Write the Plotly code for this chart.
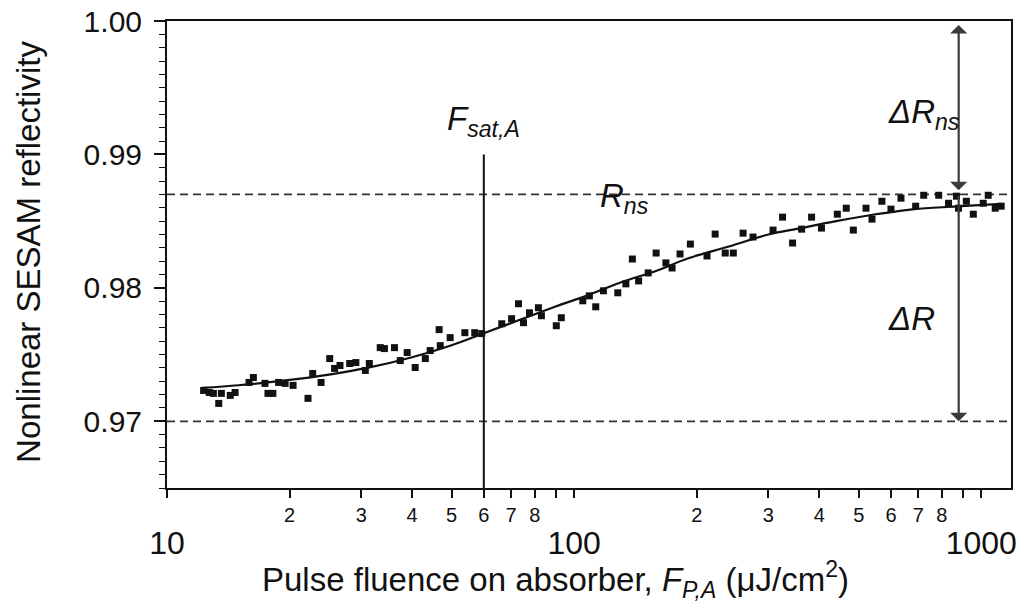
import math
import plotly.graph_objects as go

# Measured nonlinear reflectivity of the SESAM vs. pulse fluence (uJ/cm^2)
fluence = [12.3, 12.7, 13.0, 13.4, 13.6, 14.3, 14.7, 15.9, 16.3, 17.4, 17.7, 18.2, 18.8,
           19.5, 20.4, 22.2, 22.8, 23.9, 25.1, 25.8, 26.6, 28.1, 29.1, 30.7, 31.4, 33.4,
           34.2, 36.2, 37.4, 38.9, 40.7, 43.1, 44.3, 46.6, 46.9, 49.6, 53.9, 57.0, 59.3,
           66.4, 70.2, 73.0, 75.1, 77.7, 81.7, 83.1, 90.4, 93.0, 105, 109,
           113, 118, 128, 134, 139, 144, 152, 159, 168, 174, 182, 193, 212, 222, 235,
           246, 260, 275, 308, 325, 344,
           362, 383, 405, 443, 466, 485, 521, 539, 570, 600, 635, 690, 722, 786, 831,
           869, 879, 919, 956, 1011, 1040, 1082, 1119]
reflectivity = [0.97231, 0.97216, 0.97209, 0.97134, 0.97209, 0.97194, 0.97216, 0.97291,
                0.97328, 0.97284, 0.97209, 0.97209, 0.97291, 0.97284, 0.97269, 0.97172,
                0.97358, 0.97291, 0.97470, 0.97396, 0.97418, 0.97433, 0.97440, 0.97381,
                0.97433, 0.97552,
                0.97545, 0.97552, 0.97455, 0.97515, 0.97403, 0.97470, 0.97530, 0.97687,
                0.97567, 0.97627, 0.97664, 0.97664, 0.97657, 0.97731, 0.97769, 0.97881,
                0.97739, 0.97813, 0.97851, 0.97791, 0.97716, 0.97776, 0.97903, 0.97940,
                0.97858, 0.97978, 0.97963, 0.98030, 0.98216, 0.98052, 0.98112, 0.98261,
                0.98187, 0.98149, 0.98254, 0.98328, 0.98239, 0.98403, 0.98261, 0.98261,
                0.98410, 0.98381, 0.98433, 0.98530, 0.98336,
                0.98440, 0.98530, 0.98448, 0.98552, 0.98597, 0.98433, 0.98597, 0.98515,
                0.98649, 0.98590, 0.98672, 0.98612, 0.98694, 0.98694, 0.98634, 0.98687,
                0.98597, 0.98649, 0.98552, 0.98634, 0.98694, 0.98597, 0.98612]

# Fitted saturation curve
fit_fluence = [12.2, 15, 20, 25, 31, 40, 50, 60, 75, 90, 107, 130, 160, 190, 240, 300,
               350, 440, 545, 610, 685, 870, 1120]
fit_reflectivity = [0.9725, 0.9727, 0.9731, 0.9735, 0.9740, 0.9748, 0.9757, 0.9766,
                    0.9777, 0.9786, 0.9794, 0.9804, 0.9813, 0.9822, 0.9831, 0.9840,
                    0.9844, 0.9850, 0.9855, 0.9857, 0.9859, 0.9861, 0.9863]

# Fit parameters shown as guide lines
R_ns = 0.987          # reflectivity with only nonsaturable losses
R_lin = 0.970         # linear (low-fluence) reflectivity
F_sat = 60            # saturation fluence
F_marker = 880        # position of the modulation-depth arrows
R_top = 1.00

# Axis ticks
x_range = [10, 1183]
y_range = [0.965, 1.000]
x_minor_vals = [10, 20, 30, 40, 50, 60, 70, 80, 90,
                100, 200, 300, 400, 500, 600, 700, 800, 900, 1000]
x_minor_text = ["", "2", "3", "4", "5", "6", "7", "8", "",
                "", "2", "3", "4", "5", "6", "7", "8", "", ""]
x_major_vals = [10, 100, 1000]
x_major_text = ["10", "100", "1000"]
y_tick_vals = [0.97, 0.98, 0.99, 1.00]
y_tick_text = ["0.97", "0.98", "0.99", "1.00"]

FONT = "Liberation Sans, Arial, Helvetica, sans-serif"
INK = "#111111"
lg = math.log10

fig = go.Figure()

# guide lines
fig.add_trace(go.Scatter(x=x_range, y=[R_ns, R_ns], mode="lines",
                         line=dict(color="#333333", width=1.8, dash="8px,5px"),
                         hoverinfo="skip"))
fig.add_trace(go.Scatter(x=x_range, y=[R_lin, R_lin], mode="lines",
                         line=dict(color="#333333", width=1.8, dash="8px,5px"),
                         hoverinfo="skip"))
fig.add_trace(go.Scatter(x=[F_sat, F_sat], y=[y_range[0], 0.990], mode="lines",
                         line=dict(color=INK, width=2), hoverinfo="skip"))

# data and fit
fig.add_trace(go.Scatter(x=fluence, y=reflectivity, mode="markers",
                         marker=dict(symbol="square", size=7, color=INK)))
fig.add_trace(go.Scatter(x=fit_fluence, y=fit_reflectivity, mode="lines",
                         line=dict(color=INK, width=2.2, shape="spline")))

# invisible trace that carries the decade-label axis
fig.add_trace(go.Scatter(x=x_range, y=[y_range[0], y_range[0]], xaxis="x2",
                         mode="markers", marker=dict(opacity=0), hoverinfo="skip"))

# modulation depth arrows
arrow_style = dict(showarrow=True, arrowhead=1, arrowsize=1.3, arrowwidth=2.2,
                   arrowcolor="#3a3a3a", axref="x", ayref="y", text="",
                   standoff=0, startstandoff=0)
fig.add_annotation(x=lg(F_marker), y=R_top - 0.0003, ax=lg(F_marker), ay=R_ns + 0.0002,
                   arrowside="end+start", **arrow_style)
fig.add_annotation(x=lg(F_marker), y=R_lin, ax=lg(F_marker), ay=R_ns, **arrow_style)

label_font = dict(family=FONT, size=33, color=INK)
fig.add_annotation(x=lg(60), y=0.99250, text="<i>F</i><sub><i>sat,A</i></sub>",
                   showarrow=False, font=label_font)
fig.add_annotation(x=lg(133), y=0.98672, text="<i>R</i><sub><i>ns</i></sub>",
                   showarrow=False, font=label_font)
fig.add_annotation(x=lg(722), y=0.99306, text="<i>ΔR</i><sub><i>ns</i></sub>",
                   showarrow=False, font=label_font)
fig.add_annotation(x=lg(672), y=0.97769, text="<i>ΔR</i>",
                   showarrow=False, font=label_font)

# axis titles
fig.add_annotation(xref="paper", yref="paper", x=0.46, y=-0.196,
                   xanchor="center", yanchor="middle", showarrow=False,
                   text="Pulse fluence on absorber, <i>F</i><sub><i>P,A</i></sub> (μJ/cm<sup>2</sup>)",
                   font=dict(size=33, family=FONT, color=INK))
fig.add_annotation(xref="paper", yref="paper", x=-0.165, y=0.505,
                   xanchor="center", yanchor="middle", showarrow=False, textangle=-90,
                   text="Nonlinear SESAM reflectivity",
                   font=dict(size=33, family=FONT, color=INK))

fig.update_layout(
    width=1021, height=604,
    margin=dict(l=167, r=4, t=17, b=116),
    paper_bgcolor="white", plot_bgcolor="white",
    showlegend=False,
    font=dict(family=FONT, color=INK),
    xaxis=dict(
        type="log", range=[lg(x_range[0]), lg(x_range[1])],
        tickmode="array", tickvals=x_minor_vals, ticktext=x_minor_text,
        ticks="outside", ticklen=8, tickwidth=1.5, tickcolor=INK,
        tickfont=dict(size=20, family=FONT, color=INK),
        showline=True, linecolor=INK, linewidth=2, mirror=True,
        showgrid=False, zeroline=False,
    ),
    xaxis2=dict(
        type="log", range=[lg(x_range[0]), lg(x_range[1])], overlaying="x",
        side="bottom", tickmode="array", tickvals=x_major_vals, ticktext=x_major_text,
        ticks="", showline=False, showgrid=False, zeroline=False,
        ticklabelstandoff=33,
        tickfont=dict(size=32, family=FONT, color=INK),
    ),
    yaxis=dict(
        range=y_range, tickmode="array", tickvals=y_tick_vals, ticktext=y_tick_text,
        ticks="outside", ticklen=11, tickwidth=1.5, tickcolor=INK,
        minor=dict(dtick=0.001, ticks="outside", ticklen=6, tickwidth=1.2, tickcolor=INK),
        tickfont=dict(size=30, family=FONT, color=INK),
        ticklabelstandoff=6,
        showline=True, linecolor=INK, linewidth=2, mirror=True,
        showgrid=False, zeroline=False,
    ),
)

fig.write_html("out.html")
